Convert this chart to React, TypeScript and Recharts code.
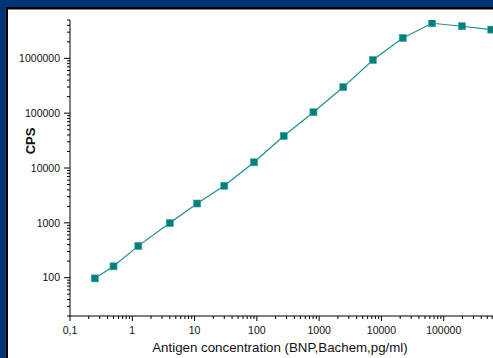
import React from "react";
import { LineChart, Line, XAxis, YAxis } from "recharts";

const concentrations = [0.25, 0.5, 1.25, 4, 11, 30, 90, 270, 810, 2440, 7300, 22000, 65000, 196000, 580000];
const cps = [97, 161, 380, 990, 2250, 4740, 12700, 38400, 104000, 299000, 931000, 2350000, 4360000, 3850000, 3340000];

const xMajorTicks = [0.1, 1, 10, 100, 1000, 10000, 100000, 1000000];
const xLabeledTicks = [0.1, 1, 10, 100, 1000, 10000, 100000];
const yMajorTicks = [100, 1000, 10000, 100000, 1000000];
const xDomain = [0.1, 1000000];
const yDomain = [20, 5000000];

const xLabel = "Antigen concentration (BNP,Bachem,pg/ml)";
const yLabel = "CPS";

function withMinor(majors: number[], lo: number, hi: number): number[] {
  const out: number[] = [];
  const start = majors[0] / 10;
  for (let base = start; base <= hi * 1.0001; base *= 10) {
    for (let k = 1; k <= 9; k++) {
      const v = Math.round(base * k * 1e6) / 1e6;
      if (v >= lo * 0.9999 && v <= hi * 1.0001) out.push(v);
    }
  }
  return out;
}

const xTicks = withMinor(xMajorTicks, xDomain[0], xDomain[1]);
const yTicks = withMinor(yMajorTicks, yDomain[0], yDomain[1]);

const data = concentrations.map((c, i) => ({ x: c, y: cps[i] }));

const isMajor = (v: number) => Math.abs(Math.log10(v) - Math.round(Math.log10(v))) < 1e-6;
const fmt = (v: number) => (v < 1 ? String(v).replace(".", ",") : String(Math.round(v)));

const FONT = "'Liberation Sans', Arial, sans-serif";

const XTick = (props: any) => {
  const { x, y, payload } = props;
  const major = isMajor(payload.value);
  const labeled = xLabeledTicks.some((t) => Math.abs(t - payload.value) < 1e-9);
  return (
    <g>
      <line x1={x} x2={x} y1={y} y2={y + (major ? 5 : 3)} stroke="#000" strokeWidth={1} />
      {labeled && (
        <text x={x} y={y + 18} textAnchor="middle" fontSize={10.5} fontFamily={FONT} fill="#111">
          {fmt(payload.value)}
        </text>
      )}
    </g>
  );
};

const YTick = (props: any) => {
  const { x, y, payload } = props;
  const major = isMajor(payload.value);
  return (
    <g>
      <line x1={x} x2={x - (major ? 6 : 3)} y1={y} y2={y} stroke="#000" strokeWidth={1} />
      {major && (
        <text x={x - 10} y={y + 3.7} textAnchor="end" fontSize={10.5} fontFamily={FONT} fill="#111">
          {fmt(payload.value)}
        </text>
      )}
    </g>
  );
};

const SquareDot = (props: any) => {
  const { cx, cy } = props;
  if (cx == null || cy == null) return null;
  return <rect x={cx - 3.5} y={cy - 3.5} width={7} height={7} fill="#007f7f" stroke="#3aa3a3" strokeWidth={0.6} />;
};

export default function App() {
  return (
    <div
      style={{
        position: "absolute",
        left: 0,
        top: 0,
        width: 493,
        height: 358,
        background: "#003377",
        overflow: "hidden",
      }}
    >
      <div
        style={{
          position: "absolute",
          left: 6,
          top: 7,
          width: 600,
          height: 400,
          background: "#fff",
          borderLeft: "2px solid #000",
          borderTop: "2px solid #000",
          boxShadow: "inset 0 1px 0 #888",
        }}
      />
      <div style={{ position: "absolute", left: 0, top: 0 }}>
        <LineChart width={506} height={358} data={data} margin={{ top: 20, right: 0, bottom: 0, left: 0 }}>
          <XAxis
            dataKey="x"
            type="number"
            scale="log"
            domain={xDomain}
            allowDataOverflow
            ticks={xTicks}
            interval={0}
            tickSize={0}
            tickMargin={0}
            tickLine={false}
            tick={<XTick />}
            height={42}
            axisLine={{ stroke: "#000", strokeWidth: 1 }}
          />
          <YAxis
            dataKey="y"
            type="number"
            scale="log"
            domain={yDomain}
            allowDataOverflow
            ticks={yTicks}
            interval={0}
            tickSize={0}
            tickMargin={0}
            tickLine={false}
            tick={<YTick />}
            width={70}
            axisLine={{ stroke: "#000", strokeWidth: 1 }}
          />
          <Line
            type="linear"
            dataKey="y"
            stroke="#1a9090"
            strokeWidth={1.2}
            dot={<SquareDot />}
            activeDot={false}
            isAnimationActive={false}
          />
        </LineChart>
      </div>
      <div
        style={{
          position: "absolute",
          left: 80,
          top: 340,
          width: 400,
          textAlign: "center",
          fontFamily: FONT,
          fontSize: 13.3,
          color: "#111",
          lineHeight: "16px",
        }}
      >
        {xLabel}
      </div>
      <div
        style={{
          position: "absolute",
          left: 30,
          top: 141,
          transform: "translate(-50%, -50%) rotate(-90deg)",
          fontFamily: FONT,
          fontSize: 13,
          fontWeight: "bold",
          color: "#111",
          whiteSpace: "nowrap",
        }}
      >
        {yLabel}
      </div>
    </div>
  );
}
